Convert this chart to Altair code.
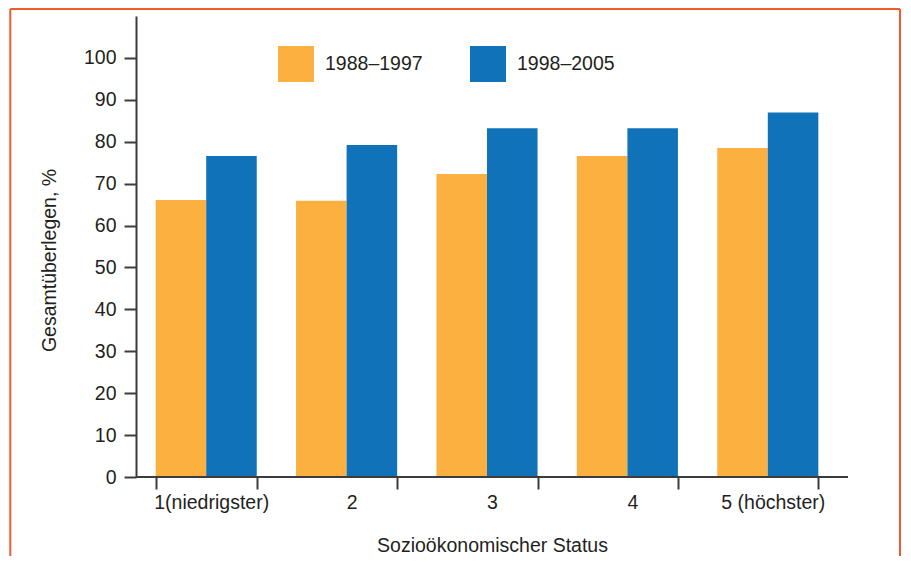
import altair as alt
import pandas as pd

categories = ["1(niedrigster)", "2", "3", "4", "5 (höchster)"]
series = ["1988–1997", "1998–2005"]
values_1988_1997 = [66.1, 65.9, 72.3, 76.6, 78.5]
values_1998_2005 = [76.6, 79.2, 83.2, 83.2, 87.0]
y_ticks = [0, 10, 20, 30, 40, 50, 60, 70, 80, 90, 100]

rows = []
for c, a, b in zip(categories, values_1988_1997, values_1998_2005):
    rows.append({"status": c, "period": series[0], "value": a})
    rows.append({"status": c, "period": series[1], "value": b})
df = pd.DataFrame(rows)

FONT = "Liberation Sans"
TEXT = "#231F20"
AXIS = "#3C3C3C"
FRAME = "#F15A2B"
ORANGE = "#FCB040"
BLUE = "#1073BA"
FS = 19.5

W, H = 712, 461
LEFT, TOP, RIGHT, BOTTOM = 128, 8, 54, 79
TOTAL_H = TOP + H + BOTTOM

bars = alt.Chart(df).mark_bar().encode(
    x=alt.X(
        "status:N", sort=categories,
        scale=alt.Scale(range=[0, 702], paddingInner=0.28, paddingOuter=0.14),
        axis=alt.Axis(
            title="Sozioökonomischer Status", labelAngle=0, domain=False,
            tickBand="extent", tickSize=12, tickWidth=2, tickColor=AXIS,
            labelPadding=4, labelOffset=5, labelFontSize=FS, labelColor=TEXT,
            labelFont=FONT,
            titleFontSize=FS, titleFont=FONT, titleColor=TEXT,
            titleFontWeight="normal", titleX=356, titleY=74,
            titleBaseline="alphabetic", titleAlign="center", grid=False,
        ),
    ),
    xOffset=alt.XOffset("period:N", sort=series,
                        scale=alt.Scale(paddingInner=0, paddingOuter=0)),
    y=alt.Y(
        "value:Q", scale=alt.Scale(domain=[0, 110], nice=False),
        axis=alt.Axis(
            values=y_ticks, title="Gesamtüberlegen, %", grid=False,
            domain=True, domainColor=AXIS, domainWidth=2,
            tickSize=12, tickWidth=2, tickColor=AXIS, labelPadding=8,
            labelFontSize=FS, labelColor=TEXT, labelFont=FONT,
            titleFontSize=FS, titleFont=FONT, titleColor=TEXT,
            titleFontWeight="normal", titleX=-81, titleY=244, titleAngle=270,
            titleBaseline="alphabetic", titleAlign="center",
        ),
    ),
    color=alt.Color(
        "period:N", sort=series,
        scale=alt.Scale(domain=series, range=[ORANGE, BLUE]),
        legend=alt.Legend(
            title=None, orient="none", legendX=142, legendY=30,
            direction="horizontal", symbolType="square", symbolSize=1296,
            symbolStrokeWidth=0, symbolOpacity=1, labelFontSize=FS,
            labelFont=FONT, labelColor=TEXT, labelOffset=11,
            columnPadding=47, padding=0,
        ),
    ),
)

one = pd.DataFrame({"a": [0]})

x_domain = alt.Chart(one).mark_rule(color=AXIS, strokeWidth=2).encode(
    x=alt.value(0), x2=alt.value(W), y=alt.value(H)
)

frame_bottom_y = TOTAL_H - TOP
frame_right_x = W + RIGHT - 2
frame_left = alt.Chart(one).mark_rule(color=FRAME, strokeWidth=2).encode(
    x=alt.value(-125.7), y=alt.value(-7), y2=alt.value(frame_bottom_y)
)
frame_top = alt.Chart(one).mark_rule(color=FRAME, strokeWidth=2).encode(
    x=alt.value(-125.7), x2=alt.value(frame_right_x), y=alt.value(-7)
)
frame_right = alt.Chart(one).mark_rule(color=FRAME, strokeWidth=2).encode(
    x=alt.value(frame_right_x), y=alt.value(-7), y2=alt.value(frame_bottom_y)
)

chart = alt.layer(bars, x_domain, frame_left, frame_top, frame_right).properties(
    width=W, height=H,
    padding={"left": LEFT, "top": TOP, "right": RIGHT, "bottom": BOTTOM},
    autosize="none",
    background="white",
).configure_view(strokeWidth=0, stroke="transparent")

chart.save("out.html", embed_options={"renderer": "svg", "actions": False})
